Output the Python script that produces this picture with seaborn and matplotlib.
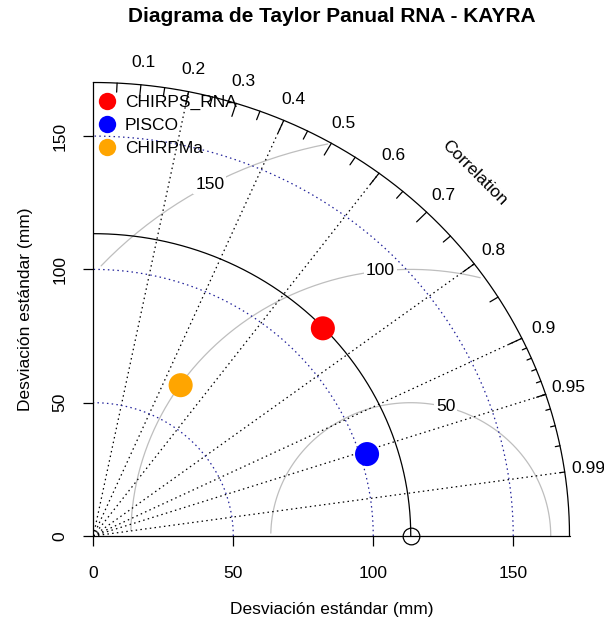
import numpy as np
import pandas as pd
import matplotlib
matplotlib.use("Agg")
import matplotlib.pyplot as plt
import seaborn as sns

# ---- data ----
models = ["CHIRPS_RNA", "PISCO", "CHIRPMa"]
model_sd = [113.1, 102.5, 64.6]
model_corr = [0.725, 0.954, 0.483]
model_colors = ["#FF0000", "#0000FF", "#FFA500"]
ref_sd = 113.4
axis_ticks = [0, 50, 100, 150]
gamma_levels = [50, 100, 150]
corr_lines = [0.2, 0.4, 0.6, 0.8, 0.9, 0.95, 0.99]
corr_labels = [0.1, 0.2, 0.3, 0.4, 0.5, 0.6, 0.7, 0.8, 0.9, 0.95, 0.99]
title = "Diagrama de Taylor Panual RNA - KAYRA"
xlabel = "Desviación estándar (mm)"
ylabel = "Desviación estándar (mm)"

sns.set_style("white")
plt.rcParams["font.family"] = ["Liberation Sans", "DejaVu Sans"]
plt.rcParams["text.color"] = "black"
plt.rcParams["axes.labelcolor"] = "black"
plt.rcParams["xtick.color"] = "black"
plt.rcParams["ytick.color"] = "black"

maxsd = 1.5 * ref_sd
W, H = 604, 618
fig = plt.figure(figsize=(W / 100, H / 100), dpi=100)
x0, x1 = 93.3, 569.5
y0, y1 = 536.0, 82.5
ax = fig.add_axes([x0 / W, 1 - y0 / H, (x1 - x0) / W, (y0 - y1) / H])
ax.set_xlim(0, maxsd)
ax.set_ylim(0, maxsd)
for s in ax.spines.values():
    s.set_visible(False)
ax.grid(False)

lw = 0.9
fs = 12.5
dot = (0, (1.2, 2.6))

# correlation radial lines
for g in corr_lines:
    ax.plot([0, maxsd * g], [0, maxsd * np.sqrt(1 - g ** 2)], color="black",
            lw=lw, linestyle=dot, zorder=2)

# axes lines
ax.plot([0, 0], [0, maxsd], color="black", lw=lw, zorder=3, clip_on=False)
ax.plot([0, maxsd], [0, 0], color="black", lw=lw, zorder=3, clip_on=False)
ax.set_xticks(axis_ticks)
ax.set_yticks(axis_ticks)
ax.set_xticklabels([str(t) for t in axis_ticks])
ax.set_yticklabels([str(t) for t in axis_ticks], rotation=90, va="center")
ax.tick_params(axis="both", direction="out", length=7.5, width=lw, color="black",
               labelcolor="black", labelsize=fs, left=True, bottom=True, pad=12)
ax.tick_params(axis="x", pad=14)
ax.tick_params(axis="y", pad=11)

# sd arcs
t = np.linspace(0, np.pi / 2, 200)
for a in axis_ticks[1:]:
    ax.plot(np.cos(t) * a, np.sin(t) * a, color="#22229a", lw=lw, linestyle=dot, zorder=2)

# gamma (RMS) contours
ang = np.arange(0, np.pi, 0.03)
labelpos = [44, 56, 69]
for gi, gm in enumerate(gamma_levels):
    xc = np.cos(ang) * gm + ref_sd
    yc = np.sin(ang) * gm
    neg = np.where(xc < 0)[0]
    end = neg.min() if len(neg) else len(ang)
    out = np.where(xc ** 2 + yc ** 2 > maxsd ** 2)[0]
    start = out.max() + 1 if len(out) else 0
    ax.plot(xc[start:end], yc[start:end], color="#BEBEBE", lw=lw, zorder=1)
    lp = labelpos[gi]
    if xc[lp] > 0:
        ax.text(xc[lp], yc[lp], str(gm), fontsize=fs, ha="center", va="center",
                bbox=dict(facecolor="white", edgecolor="none", pad=1.5), zorder=4)

# outer arc
t2 = np.linspace(0, np.pi / 2, 300)
ax.plot(np.cos(t2) * maxsd, np.sin(t2) * maxsd, color="black", lw=lw, zorder=3, clip_on=False)

def ticks(vals, frac):
    for c in vals:
        s = np.sqrt(1 - c ** 2)
        ax.plot([c * maxsd, c * frac * maxsd], [s * maxsd, s * frac * maxsd],
                color="black", lw=lw, zorder=3, clip_on=False)

ticks(np.arange(0.1, 0.91, 0.1), 0.97)
ticks(np.arange(0.05, 0.96, 0.1), 0.98)
ticks(np.arange(0.91, 0.995, 0.01), 0.99)

# reference sd arc
ax.plot(np.cos(t2) * ref_sd, np.sin(t2) * ref_sd, color="black", lw=lw, zorder=3)
ax.plot([ref_sd], [0], marker="o", markersize=12, markerfacecolor="none",
        markeredgecolor="black", markeredgewidth=lw, zorder=5, clip_on=False)

for c in corr_labels:
    s = np.sqrt(1 - c ** 2)
    ax.text(c * 1.05 * maxsd, s * 1.05 * maxsd, f"{c:g}", fontsize=fs,
            ha="center", va="center", clip_on=False)
ax.text(maxsd * 0.8, maxsd * 0.8, "Correlation", rotation=-45, fontsize=fs,
        ha="center", va="center", rotation_mode="anchor")

# model points
df = pd.DataFrame({"model": models, "sd": model_sd, "corr": model_corr})
df["x"] = df["sd"] * df["corr"]
df["y"] = df["sd"] * np.sqrt(1 - df["corr"] ** 2)
sns.scatterplot(data=df, x="x", y="y", hue="model", hue_order=models,
                palette=dict(zip(models, model_colors)), s=300, linewidth=0,
                ax=ax, zorder=6, legend=True)
ax.set_xlabel(xlabel, fontsize=fs, labelpad=15, color="black")
ax.set_ylabel(ylabel, fontsize=fs, labelpad=14, color="black")

handles, labels = ax.get_legend_handles_labels()
for h in handles:
    try:
        h.set_markersize(12.5)
    except Exception:
        pass
leg = ax.legend(handles, labels, loc="upper left", bbox_to_anchor=(-0.029, 1.004),
                frameon=False, fontsize=fs, handletextpad=0.2, labelspacing=0.47,
                borderpad=0.3, handlelength=1.6)
for txt in leg.get_texts():
    txt.set_color("black")

fig.text(332 / W, 1 - 17 / H, title, fontsize=15, fontweight="bold",
         ha="center", va="center", color="black")

fig.savefig("out.png", dpi=100)
